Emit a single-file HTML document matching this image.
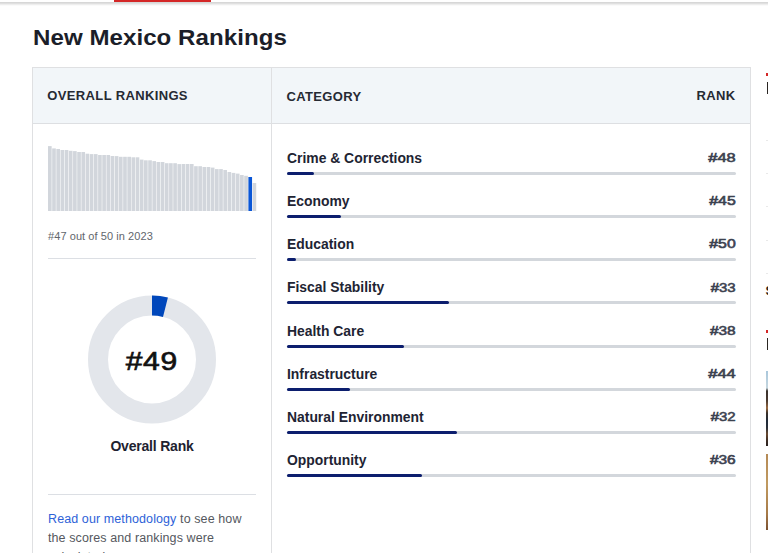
<!DOCTYPE html>
<html><head><meta charset="utf-8">
<style>
html,body{margin:0;padding:0;background:#fff;width:768px;height:553px;overflow:hidden;position:relative;font-family:"Liberation Sans",sans-serif;}
.abs{position:absolute;}
#topline{position:absolute;left:0;top:2px;width:768px;height:4px;background:linear-gradient(#d5d5d5 0px,#d9d9d9 1px,#e7e7e7 2px,#f5f5f5 3px,#fff 4px);}
#red{position:absolute;left:114px;top:0;width:97px;height:2px;background:#d42727;}
#title{position:absolute;left:33px;top:24.5px;font-size:22.5px;letter-spacing:0.05px;transform:scaleX(1.07);transform-origin:0 50%;font-weight:bold;color:#1b1e29;white-space:nowrap;line-height:26px;}
#tbl{position:absolute;left:32px;top:67px;width:717px;height:500px;border:1px solid #dfe0e2;box-sizing:content-box;}
#hdr{position:absolute;left:33px;top:68px;width:717px;height:55px;background:#f2f6f9;border-bottom:1px solid #dddfe2;}
#vdiv{position:absolute;left:271px;top:68px;width:1px;height:500px;background:#dfe0e2;}
.hd{position:absolute;top:88px;font-size:13px;font-weight:bold;color:#262a33;letter-spacing:0.36px;line-height:16px;white-space:nowrap;}
.cat{position:absolute;left:287px;font-size:13.9px;font-weight:bold;color:#1e2433;line-height:16px;white-space:nowrap;}
.rk{position:absolute;right:32px;font-size:13px;font-weight:normal;-webkit-text-stroke:0.6px #3c4250;color:#3c4250;line-height:16px;white-space:nowrap;}
.rk span{display:inline-block;transform-origin:100% 50%;}
.trk{position:absolute;left:287px;width:448.5px;height:3px;background:#d3d7dc;border-radius:2px;}
.fill{position:absolute;left:287px;height:3px;background:#0c1e6e;border-radius:2px;}
#yr{position:absolute;left:48px;top:230px;font-size:11px;letter-spacing:0.07px;color:#62666c;line-height:13px;white-space:nowrap;}
.hr{position:absolute;left:48px;width:208px;height:1px;background:#dcdfe4;}
#num{position:absolute;left:100px;width:104px;top:346.5px;text-align:center;font-size:25px;font-weight:normal;-webkit-text-stroke:0.65px #111;color:#111;line-height:28px;}
#num span{display:inline-block;transform:scaleX(1.2);letter-spacing:0.6px;}
#ovr{position:absolute;left:72px;width:160px;top:438px;text-align:center;font-size:14px;letter-spacing:-0.2px;font-weight:bold;color:#1e2230;line-height:16px;}
#meth{position:absolute;left:48px;top:510px;width:208px;font-size:12.5px;letter-spacing:0.1px;color:#55585e;line-height:19px;}
#meth a{color:#2d62d8;text-decoration:none;}

</style></head><body>
<div id="topline"></div><div id="red"></div>
<div id="title">New Mexico Rankings</div>
<div id="tbl"></div>
<div id="hdr"></div>
<div id="vdiv"></div>
<div class="hd" style="left:47.3px">OVERALL RANKINGS</div>
<div class="hd" style="left:286.5px;top:88.5px">CATEGORY</div>
<div class="hd" style="right:32.5px">RANK</div>
<svg class="abs" style="left:0;top:0" width="768" height="553">
<rect x="48.00" y="146.1" width="3.65" height="64.9" fill="#d2d6dc"/>
<rect x="52.17" y="148.4" width="3.65" height="62.6" fill="#d2d6dc"/>
<rect x="56.35" y="149.0" width="3.65" height="62.0" fill="#d2d6dc"/>
<rect x="60.52" y="150.0" width="3.65" height="61.0" fill="#d2d6dc"/>
<rect x="64.70" y="150.0" width="3.65" height="61.0" fill="#d2d6dc"/>
<rect x="68.88" y="150.8" width="3.65" height="60.2" fill="#d2d6dc"/>
<rect x="73.05" y="151.1" width="3.65" height="59.9" fill="#d2d6dc"/>
<rect x="77.22" y="152.0" width="3.65" height="59.0" fill="#d2d6dc"/>
<rect x="81.40" y="152.0" width="3.65" height="59.0" fill="#d2d6dc"/>
<rect x="85.57" y="153.7" width="3.65" height="57.3" fill="#d2d6dc"/>
<rect x="89.75" y="154.1" width="3.65" height="56.9" fill="#d2d6dc"/>
<rect x="93.92" y="154.1" width="3.65" height="56.9" fill="#d2d6dc"/>
<rect x="98.10" y="155.0" width="3.65" height="56.0" fill="#d2d6dc"/>
<rect x="102.28" y="155.0" width="3.65" height="56.0" fill="#d2d6dc"/>
<rect x="106.45" y="155.0" width="3.65" height="56.0" fill="#d2d6dc"/>
<rect x="110.62" y="156.0" width="3.65" height="55.0" fill="#d2d6dc"/>
<rect x="114.80" y="156.1" width="3.65" height="54.9" fill="#d2d6dc"/>
<rect x="118.97" y="156.8" width="3.65" height="54.2" fill="#d2d6dc"/>
<rect x="123.15" y="156.8" width="3.65" height="54.2" fill="#d2d6dc"/>
<rect x="127.33" y="156.8" width="3.65" height="54.2" fill="#d2d6dc"/>
<rect x="131.50" y="157.3" width="3.65" height="53.7" fill="#d2d6dc"/>
<rect x="135.68" y="157.3" width="3.65" height="53.7" fill="#d2d6dc"/>
<rect x="139.85" y="159.6" width="3.65" height="51.4" fill="#d2d6dc"/>
<rect x="144.02" y="160.3" width="3.65" height="50.7" fill="#d2d6dc"/>
<rect x="148.20" y="160.3" width="3.65" height="50.7" fill="#d2d6dc"/>
<rect x="152.38" y="161.1" width="3.65" height="49.9" fill="#d2d6dc"/>
<rect x="156.55" y="162.0" width="3.65" height="49.0" fill="#d2d6dc"/>
<rect x="160.72" y="162.0" width="3.65" height="49.0" fill="#d2d6dc"/>
<rect x="164.90" y="163.2" width="3.65" height="47.8" fill="#d2d6dc"/>
<rect x="169.07" y="163.2" width="3.65" height="47.8" fill="#d2d6dc"/>
<rect x="173.25" y="163.2" width="3.65" height="47.8" fill="#d2d6dc"/>
<rect x="177.42" y="164.1" width="3.65" height="46.9" fill="#d2d6dc"/>
<rect x="181.60" y="164.0" width="3.65" height="47.0" fill="#d2d6dc"/>
<rect x="185.78" y="164.0" width="3.65" height="47.0" fill="#d2d6dc"/>
<rect x="189.95" y="164.0" width="3.65" height="47.0" fill="#d2d6dc"/>
<rect x="194.12" y="166.2" width="3.65" height="44.8" fill="#d2d6dc"/>
<rect x="198.30" y="166.2" width="3.65" height="44.8" fill="#d2d6dc"/>
<rect x="202.47" y="167.0" width="3.65" height="44.0" fill="#d2d6dc"/>
<rect x="206.65" y="167.0" width="3.65" height="44.0" fill="#d2d6dc"/>
<rect x="210.82" y="167.6" width="3.65" height="43.4" fill="#d2d6dc"/>
<rect x="215.00" y="169.1" width="3.65" height="41.9" fill="#d2d6dc"/>
<rect x="219.17" y="169.1" width="3.65" height="41.9" fill="#d2d6dc"/>
<rect x="223.35" y="170.0" width="3.65" height="41.0" fill="#d2d6dc"/>
<rect x="227.53" y="172.0" width="3.65" height="39.0" fill="#d2d6dc"/>
<rect x="231.70" y="172.9" width="3.65" height="38.1" fill="#d2d6dc"/>
<rect x="235.88" y="173.6" width="3.65" height="37.4" fill="#d2d6dc"/>
<rect x="240.05" y="175.0" width="3.65" height="36.0" fill="#d2d6dc"/>
<rect x="244.22" y="175.8" width="3.65" height="35.2" fill="#d2d6dc"/>
<rect x="248.40" y="177.0" width="3.65" height="34.0" fill="#0a56d6"/>
<rect x="252.57" y="183.0" width="3.65" height="28.0" fill="#d2d6dc"/>
<circle cx="152" cy="359.5" r="54" fill="none" stroke="#e3e6eb" stroke-width="20"/>
<path d="M152 295.5 A64 64 0 0 1 167.9 297.5 L163 316.9 A44 44 0 0 0 152 315.5 Z" fill="#0047bb"/>
</svg>
<div id="yr">#47 out of 50 in 2023</div>
<div class="hr" style="top:258px"></div>
<div id="num"><span>#49</span></div>
<div id="ovr">Overall Rank</div>
<div class="hr" style="top:494px"></div>
<div id="meth"><a>Read our methodology</a> to see how the scores and rankings were calculated.</div>
<div class="cat" style="top:149.60px">Crime &amp; Corrections</div>
<div class="rk" style="top:149.80px"><span style="transform:scaleX(1.262)">#48</span></div>
<div class="trk" style="top:172.00px"></div>
<div class="fill" style="top:172.00px;width:26.9px"></div>
<div class="cat" style="top:192.84px">Economy</div>
<div class="rk" style="top:193.04px"><span style="transform:scaleX(1.218)">#45</span></div>
<div class="trk" style="top:215.14px"></div>
<div class="fill" style="top:215.14px;width:53.8px"></div>
<div class="cat" style="top:236.08px">Education</div>
<div class="rk" style="top:236.28px"><span style="transform:scaleX(1.218)">#50</span></div>
<div class="trk" style="top:258.28px"></div>
<div class="fill" style="top:258.28px;width:9.0px"></div>
<div class="cat" style="top:279.32px">Fiscal Stability</div>
<div class="rk" style="top:279.52px"><span style="transform:scaleX(1.150)">#33</span></div>
<div class="trk" style="top:301.42px"></div>
<div class="fill" style="top:301.42px;width:161.5px"></div>
<div class="cat" style="top:322.56px">Health Care</div>
<div class="rk" style="top:322.76px"><span style="transform:scaleX(1.189)">#38</span></div>
<div class="trk" style="top:344.56px"></div>
<div class="fill" style="top:344.56px;width:116.6px"></div>
<div class="cat" style="top:365.80px">Infrastructure</div>
<div class="rk" style="top:366.00px"><span style="transform:scaleX(1.262)">#44</span></div>
<div class="trk" style="top:387.70px"></div>
<div class="fill" style="top:387.70px;width:62.8px"></div>
<div class="cat" style="top:409.04px">Natural Environment</div>
<div class="rk" style="top:409.24px"><span style="transform:scaleX(1.150)">#32</span></div>
<div class="trk" style="top:430.84px"></div>
<div class="fill" style="top:430.84px;width:170.4px"></div>
<div class="cat" style="top:452.28px">Opportunity</div>
<div class="rk" style="top:452.48px"><span style="transform:scaleX(1.189)">#36</span></div>
<div class="trk" style="top:473.98px"></div>
<div class="fill" style="top:473.98px;width:134.6px"></div>
<div class="abs" style="left:765.6px;top:73.2px;width:3px;height:2.6px;background:#d42727"></div>
<div class="abs" style="left:766.5px;top:82px;width:2px;height:12px;background:#2a2622"></div>
<div class="abs" style="left:766px;top:139.5px;width:2px;height:1px;background:#e9e9e9"></div>
<div class="abs" style="left:766px;top:173px;width:2px;height:1px;background:#e9e9e9"></div>
<div class="abs" style="left:766px;top:206px;width:2px;height:1px;background:#e9e9e9"></div>
<div class="abs" style="left:766px;top:239.5px;width:2px;height:1px;background:#e9e9e9"></div>
<div class="abs" style="left:766px;top:273px;width:2px;height:1px;background:#e9e9e9"></div>
<div class="abs" style="left:765.6px;top:284.4px;font-size:12.5px;line-height:14px;font-weight:bold;color:#222">S</div>
<div class="abs" style="left:765.7px;top:330px;width:3px;height:2.6px;background:#d42727"></div>
<div class="abs" style="left:766.6px;top:338px;width:2px;height:12px;background:#2a2622"></div>
<div class="abs" style="left:766px;top:371px;width:2px;height:75px;background:linear-gradient(#a9c7dc 0px,#c5d6de 17px,#3a322c 20px,#4a3a30 30px,#9a6a40 37px,#3a3028 42px,#1f2a38 50px,#2a3038 57px,#6a4a30 63px,#3a2a22 70px,#2a2220 75px)"></div>
<div class="abs" style="left:766px;top:454px;width:2px;height:75.5px;background:linear-gradient(#b58a56,#c09a60 30px,#a67a48 60px,#7a5030)"></div>

</body></html>
